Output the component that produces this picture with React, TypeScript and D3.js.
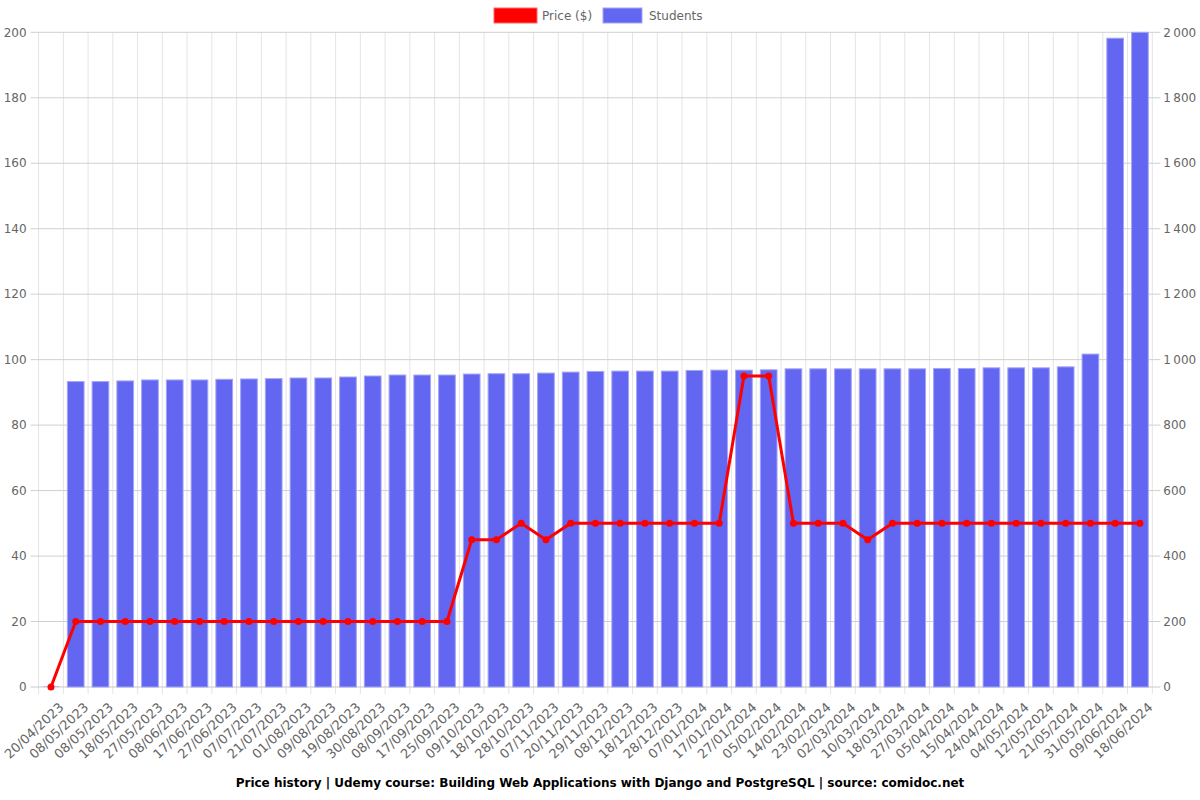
import React from "react";
import * as d3 from "d3";

const labels: string[] = [
  "20/04/2023", "08/05/2023", "08/05/2023", "18/05/2023", "27/05/2023", "08/06/2023",
  "17/06/2023", "27/06/2023", "07/07/2023", "21/07/2023", "01/08/2023", "09/08/2023",
  "19/08/2023", "30/08/2023", "08/09/2023", "17/09/2023", "25/09/2023", "09/10/2023",
  "18/10/2023", "28/10/2023", "07/11/2023", "20/11/2023", "29/11/2023", "08/12/2023",
  "18/12/2023", "28/12/2023", "07/01/2024", "17/01/2024", "27/01/2024", "05/02/2024",
  "14/02/2024", "23/02/2024", "02/03/2024", "10/03/2024", "18/03/2024", "27/03/2024",
  "05/04/2024", "15/04/2024", "24/04/2024", "04/05/2024", "12/05/2024", "21/05/2024",
  "31/05/2024", "09/06/2024", "18/06/2024",
];

const prices: number[] = [
  0, 20, 20, 20, 20, 20, 20, 20, 20, 20, 20, 20, 20, 20, 20, 20, 20, 45,
  45, 50, 45, 50, 50, 50, 50, 50, 50, 50, 95, 95, 50, 50, 50, 45, 50, 50,
  50, 50, 50, 50, 50, 50, 50, 50, 50,
];

const students: number[] = [
  0, 933, 933, 935, 938, 938, 938, 940, 941, 942, 944, 944, 947, 950, 953, 953, 953, 956,
  957, 957, 959, 962, 964, 965, 965, 965, 967, 968, 968, 969, 972, 972, 972, 972, 972, 972,
  973, 973, 975, 975, 975, 978, 1017, 1982, 2000,
];

const priceTicks: number[] = [0, 20, 40, 60, 80, 100, 120, 140, 160, 180, 200];
const studentTicks: number[] = [0, 200, 400, 600, 800, 1000, 1200, 1400, 1600, 1800, 2000];

const title =
  "Price history | Udemy course: Building Web Applications with Django and PostgreSQL | source: comidoc.net";

const FONT = "'DejaVu Sans', Verdana, sans-serif";

const locale = d3.formatLocale({
  decimal: ".",
  thousands: "\u202f",
  grouping: [3],
  currency: ["", ""],
});
const fmtStudents = locale.format(",");

export default function App() {
  const left = 38.6;
  const right = 1152.3;
  const top = 32.3;
  const bottom = 687;

  const idx = labels.map((_, i) => i);
  const x = d3.scaleBand<number>().domain(idx).range([left, right]).padding(0);
  const yL = d3.scaleLinear().domain([0, 200]).range([bottom, top]);
  const yR = d3.scaleLinear().domain([0, 2000]).range([bottom, top]);
  const bw = x.bandwidth();
  const barW = bw * 0.675;

  const line = d3
    .line<number>()
    .x((_, i) => (x(i) as number) + bw / 2)
    .y((d) => yL(d));

  const bounds = d3.range(labels.length + 1).map((i) => left + i * bw);

  return (
    <svg
      width={1200}
      height={800}
      style={{ position: "absolute", left: 0, top: 0, background: "#fff" }}
      fontFamily={FONT}
    >
      {/* vertical grid */}
      {bounds.map((bx, i) => (
        <line
          key={"vg" + i}
          x1={bx}
          x2={bx}
          y1={top}
          y2={bottom + 7}
          stroke="#e4e4e4"
          strokeWidth={1}
        />
      ))}
      {/* horizontal grid */}
      {priceTicks.map((t) => (
        <line
          key={"hg" + t}
          x1={left - 8}
          x2={right + 8}
          y1={yL(t)}
          y2={yL(t)}
          stroke={t === 0 ? "#c8c8c8" : "#d0d0d0"}
          strokeWidth={1}
        />
      ))}
      {/* bars */}
      {students.map((s, i) => {
        const h = Math.max(bottom - yR(s), 1);
        return (
          <rect
            key={"b" + i}
            x={(x(i) as number) + (bw - barW) / 2}
            y={bottom - h}
            width={barW}
            height={h}
            fill={s > 0 ? "#6366f1" : "#b9bbf7"}
            stroke="#a3a5f6"
            strokeWidth={s > 0 ? 1 : 0}
          />
        );
      })}
      {/* price line */}
      <path d={line(prices) || ""} fill="none" stroke="#ff0000" strokeWidth={3} strokeLinejoin="round" />
      {prices.map((p, i) => (
        <circle key={"p" + i} cx={(x(i) as number) + bw / 2} cy={yL(p)} r={3.5} fill="#ff0000" />
      ))}
      {/* left axis labels */}
      {priceTicks.map((t) => (
        <text key={"lt" + t} x={left - 12} y={yL(t)} dy="0.35em" textAnchor="end" fontSize={12} fill="#666">
          {t}
        </text>
      ))}
      {/* right axis labels */}
      {studentTicks.map((t) => (
        <text key={"rt" + t} x={right + 11} y={yR(t)} dy="0.35em" textAnchor="start" fontSize={12} fill="#666">
          {fmtStudents(t)}
        </text>
      ))}
      {/* x labels */}
      {labels.map((l, i) => (
        <text
          key={"xl" + i}
          transform={`translate(${(x(i) as number) + bw / 2 + 10.4},${bottom + 18}) rotate(-43)`}
          textAnchor="end"
          dy="0.35em"
          fontSize={13}
          fill="#666"
        >
          {l}
        </text>
      ))}
      {/* legend */}
      <rect x={494} y={8} width={43} height={15} fill="#ff0000" stroke="#ff6666" strokeWidth={1} />
      <text x={542} y={16} dy="0.35em" fontSize={12} fill="#666">
        Price ($)
      </text>
      <rect x={603} y={8} width={39} height={15} fill="#6366f1" stroke="#a3a5f6" strokeWidth={1} />
      <text x={649} y={16} dy="0.35em" fontSize={12} fill="#666">
        Students
      </text>
      {/* title */}
      <text x={600} y={783} dy="0.35em" textAnchor="middle" fontSize={12} fontWeight="bold" fill="#000">
        {title}
      </text>
    </svg>
  );
}
